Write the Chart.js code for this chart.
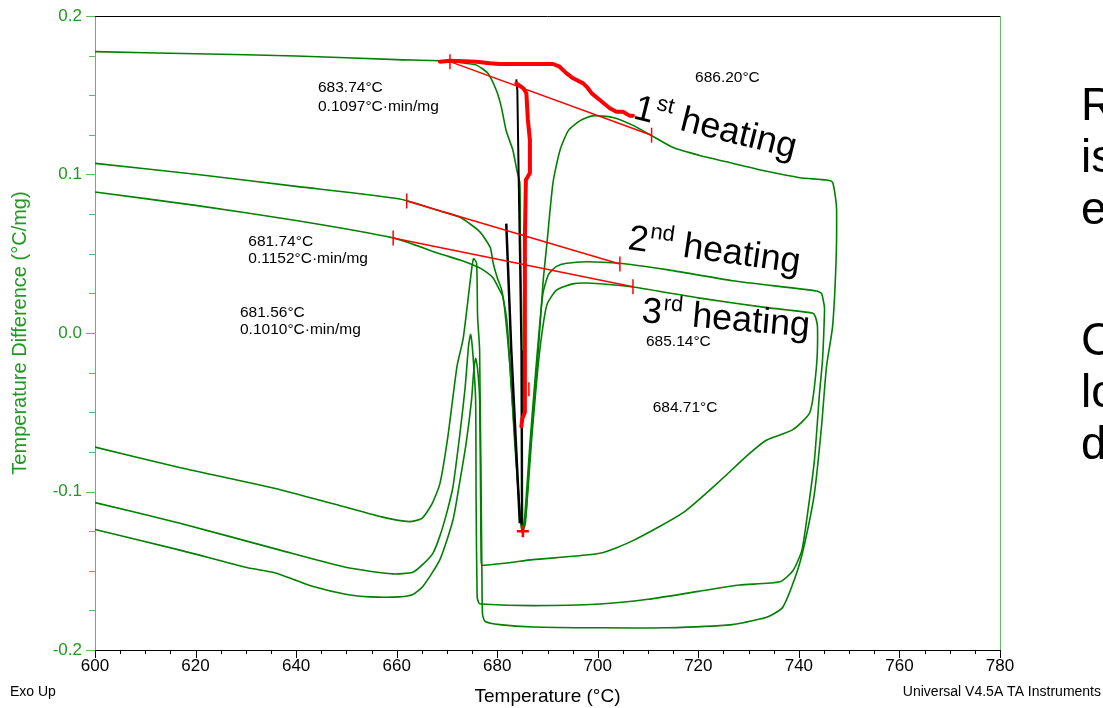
<!DOCTYPE html>
<html>
<head>
<meta charset="utf-8">
<title>DSC heating runs</title>
<script src="https://cdn.jsdelivr.net/npm/chart.js@4.4.1/dist/chart.umd.min.js"></script>
<style>
  html, body { margin: 0; padding: 0; background: #fff; overflow: hidden; }
  #wrap { position: relative; width: 1103px; height: 708px; overflow: hidden; }
  #dsc { position: absolute; left: 0; top: 0; }
  .side { position: absolute; left: 1081px; font-family: 'Liberation Sans', Arial, sans-serif; font-size: 46px; line-height: 52px; color: #000; white-space: nowrap; }
</style>
</head>
<body>
<div id="wrap">
  <canvas id="dsc" width="1103" height="708"></canvas>
  <div class="side" style="top:78px">R<br>is<br>e</div>
  <div class="side" style="top:313px">C<br>lo<br>d</div>
</div>
<script>
// axis ticks
const tempTicks = [600, 620, 640, 660, 680, 700, 720, 740, 760, 780];
const diffTicks = [-0.2, -0.1, 0.0, 0.1, 0.2];

// green DSC runs: heating up to ~746 C, then cooling back (temperature, signal)
const run1 = [[600,0.1775],[620,0.1762],[640,0.1748],[660,0.1725],[670,0.1716],[674,0.1700],[675.9,0.1690],[678.1,0.1640],[679.8,0.1533],[680.8,0.1428],[681.8,0.1274],[683.1,0.1155],[683.9,0.1028],[684.5,0.0946],[684.6,0.0630],[684.9,0.0000],[685.0,-0.0800],[685.1,-0.1250],[685.6,-0.1200],[686.3,-0.0850],[687.3,-0.0450],[688.2,-0.0100],[689.1,0.0315],[689.9,0.0570],[691.1,0.0950],[692.5,0.1155],[694.2,0.1280],[696.5,0.1340],[699.0,0.1370],[703.0,0.1360],[707.0,0.1310],[711.0,0.1240],[715.0,0.1170],[720.3,0.1120],[726.9,0.1070],[733.6,0.1020],[740.2,0.0980],[745.5,0.0965],[746.7,0.0950],[747.3,0.0850],[747.5,0.0776],[747.4,0.0460],[746.7,0.0040],[745.5,-0.0210],[744.5,-0.0590],[743.1,-0.1010],[741.2,-0.1320],[739.6,-0.1510],[736.8,-0.1730],[734.2,-0.1785],[732.2,-0.1805],[726.8,-0.1840],[713.7,-0.1860],[700.4,-0.1860],[687.1,-0.1855],[680.5,-0.1840],[677.6,-0.1820],[677.1,-0.1780],[677.0,-0.1680],[676.5,-0.0110],[676.1,0.0100],[675.9,0.0440],[675.3,0.0470],[674.9,0.0400],[674.0,0.0160],[673.2,-0.0040],[672.0,-0.0210],[670.2,-0.0650],[668.6,-0.0950],[667.0,-0.1080],[665.0,-0.1170],[662.5,-0.1190],[657.0,-0.1160],[650.0,-0.1100],[637.0,-0.0990],[617.0,-0.0850],[600,-0.0720]];
const run2 = [[600,0.1070],[620,0.1002],[640,0.0925],[660.6,0.0845],[668.6,0.0770],[672.6,0.0730],[676.5,0.0640],[678.6,0.0540],[679.2,0.0440],[680.0,0.0350],[680.9,0.0270],[681.5,0.0145],[682.5,-0.0200],[683.8,-0.0800],[684.7,-0.1200],[685.0,-0.1260],[685.5,-0.1150],[686.5,-0.0700],[687.5,-0.0300],[688.3,0.0000],[689.1,0.0250],[690.2,0.0370],[691.8,0.0420],[693.8,0.0440],[697.8,0.0450],[704.4,0.0440],[713.7,0.0400],[726.8,0.0330],[743.5,0.0265],[744.5,0.0250],[745.0,0.0180],[745.1,0.0145],[744.7,-0.0170],[744.1,-0.0380],[743.1,-0.0800],[741.8,-0.1120],[740.6,-0.1370],[738.8,-0.1500],[736.2,-0.1570],[728.2,-0.1590],[720.0,-0.1630],[710.0,-0.1680],[700.4,-0.1710],[687.1,-0.1720],[676.7,-0.1710],[676.3,-0.1700],[676.0,-0.1660],[675.8,-0.1050],[675.7,-0.0420],[675.1,-0.0110],[674.7,-0.0010],[674.3,-0.0080],[673.6,-0.0350],[672.6,-0.0630],[671.2,-0.0970],[670.0,-0.1130],[668.6,-0.1280],[667.2,-0.1390],[665.2,-0.1460],[663.2,-0.1510],[659.2,-0.1520],[650.1,-0.1480],[636.8,-0.1370],[616.9,-0.1200],[600,-0.1070]];
const run3 = [[600,0.0890],[620,0.0805],[640,0.0710],[659.3,0.0600],[668.6,0.0500],[672.6,0.0460],[675.1,0.0430],[677.1,0.0400],[679.1,0.0350],[680.5,0.0270],[681.1,0.0230],[682.0,0.0050],[683.5,-0.0700],[684.6,-0.1180],[685.0,-0.1240],[685.7,-0.1150],[686.9,-0.0650],[688.0,-0.0250],[688.9,0.0000],[689.9,0.0180],[691.8,0.0270],[695.0,0.0310],[698.0,0.0315],[707.0,0.0290],[720.3,0.0220],[733.6,0.0160],[742.7,0.0126],[743.3,0.0100],[743.7,0.0040],[743.5,-0.0210],[742.2,-0.0500],[738.8,-0.0610],[733.6,-0.0675],[730.2,-0.0760],[723.7,-0.0950],[716.9,-0.1135],[707.0,-0.1310],[700.4,-0.1390],[687.1,-0.1430],[677.0,-0.1465],[676.8,-0.1430],[676.7,-0.1050],[676.5,-0.0420],[676.1,-0.0230],[675.7,-0.0160],[675.3,-0.0250],[674.9,-0.0420],[673.8,-0.0700],[672.6,-0.0930],[671.2,-0.1180],[668.6,-0.1430],[665.2,-0.1600],[663.2,-0.1650],[660.6,-0.1665],[654.7,-0.1665],[650.1,-0.1650],[643.4,-0.1600],[638.2,-0.1540],[635.4,-0.1510],[630.2,-0.1480],[616.9,-0.1370],[600,-0.1240]];

// black peak fits
const blackFit1 = [[683.8,0.1600],[684.0,0.1530],[684.8,-0.0110],[684.9,-0.1210]];
const blackFit2 = [[681.8,0.0690],[682.8,-0.0110],[684.5,-0.1200]];

// red onset baselines (tangents)
const tangent1 = [[670.6,0.1712],[710.7,0.1248]];
const tangent2 = [[662.0,0.0833],[704.4,0.0435]];
const tangent3 = [[659.3,0.0600],[707.0,0.0292]];

// hand-drawn red traces
const redTrace = [[668.6,0.1712],[670.6,0.1718],[675.9,0.1712],[678.5,0.1702],[680.5,0.1697],[691.1,0.1697],[692.4,0.1680],[693.8,0.1638],[695.1,0.1607],[697.1,0.1575],[698.0,0.1546],[698.8,0.1512],[700.4,0.1470],[702.4,0.1418],[703.7,0.1396],[705.0,0.1396],[706.4,0.1370],[707.0,0.1370]];
const redDrop = [[683.8,0.1575],[685.2,0.1544],[685.8,0.1512],[686.1,0.1344],[686.5,0.1218],[686.5,0.1010],[685.7,0.0965],[685.5,0.0587],[685.5,-0.0044],[685.5,-0.0500],[685.0,-0.0540],[684.8,-0.0590]];
const peakMark = [[685.1,-0.1250]];
const endMark = [[686.3,-0.0355]];

// analysis readouts
const notes = [
  { text: '683.74°C', x: 644.35, y: 0.1546 },
  { text: '0.1097°C·min/mg', x: 644.35, y: 0.1426 },
  { text: '686.20°C', x: 719.34, y: 0.1609 },
  { text: '681.74°C', x: 630.49, y: 0.0574 },
  { text: '0.1152°C·min/mg', x: 630.49, y: 0.0467 },
  { text: '681.56°C', x: 628.84, y: 0.0126 },
  { text: '0.1010°C·min/mg', x: 628.84, y: 0.0019 },
  { text: '685.14°C', x: 709.59, y: -0.0057 },
  { text: '684.71°C', x: 710.92, y: -0.0473 }
];
const runLabels = [
  { num: '1', sup: 'st', x: 706.81, y: 0.1356, angle: 14 },
  { num: '2', sup: 'nd', x: 705.81, y: 0.0530, angle: 8 },
  { num: '3', sup: 'rd', x: 708.60, y: 0.0069, angle: 5 }
];

const family = "'Liberation Sans', Arial, sans-serif";
const curveGreen = '#008000';
const axisGreen = '#63b963';
const textGreen = '#1f9a1f';
const red = '#ff0000';

function series(points, color, width, order, extra) {
    return Object.assign({
        data: points.map(p => ({ x: p[0], y: p[1] })),
        showLine: true,
        borderColor: color,
        backgroundColor: color,
        borderWidth: width,
        pointRadius: 0,
        tension: 0,
        fill: false,
        order: order
    }, extra || {});
}

const tickEnds = { pointStyle: 'line', rotation: 90, pointRadius: 7.5, pointBorderColor: red, pointBorderWidth: 1.5 };

const datasets = [
    series(redTrace, red, 4, 0, { borderJoinStyle: 'round', borderCapStyle: 'round' }),
    series(redDrop, red, 4, 0, { borderJoinStyle: 'round', borderCapStyle: 'round' }),
    series(peakMark, red, 2.5, 0, { showLine: false, pointStyle: 'cross', pointRadius: 6, pointBorderColor: red, pointBorderWidth: 2.5 }),
    series(endMark, red, 1.5, 0, { showLine: false, pointStyle: 'line', rotation: 90, pointRadius: 7, pointBorderColor: red, pointBorderWidth: 1.5 }),
    series(tangent1, red, 1.5, 1, tickEnds),
    series(tangent2, red, 1.5, 1, tickEnds),
    series(tangent3, red, 1.5, 1, tickEnds),
    series(blackFit1, '#000', 2, 2),
    series(blackFit2, '#000', 2.5, 2),
    series(run1, curveGreen, 1.6, 3, { tension: 0.2 }),
    series(run2, curveGreen, 1.6, 3, { tension: 0.2 }),
    series(run3, curveGreen, 1.6, 3, { tension: 0.2 })
];

// frame, minor ticks and text annotations
const dscDecor = {
    id: 'dscDecor',
    afterDraw(chart) {
        const ctx = chart.ctx;
        const area = chart.chartArea;
        const xs = chart.scales.x;
        const ys = chart.scales.y;
        ctx.save();

        ctx.lineWidth = 1;
        ctx.strokeStyle = '#000';
        ctx.beginPath();
        ctx.moveTo(area.left, area.top + 0.5);
        ctx.lineTo(area.right, area.top + 0.5);
        ctx.stroke();
        ctx.strokeStyle = axisGreen;
        ctx.beginPath();
        ctx.moveTo(area.right + 0.5, area.top);
        ctx.lineTo(area.right + 0.5, area.bottom);
        ctx.stroke();

        // x ticks every 5 degrees
        ctx.strokeStyle = '#000';
        for (let i = 0; i <= 36; i++) {
            const px = Math.round(xs.getPixelForValue(600 + i * 5)) + 0.5;
            const len = i % 4 === 0 ? 8 : 4;
            ctx.beginPath();
            ctx.moveTo(px, area.bottom);
            ctx.lineTo(px, area.bottom + len);
            ctx.stroke();
        }
        // y ticks every 0.025
        ctx.strokeStyle = axisGreen;
        for (let i = 0; i <= 16; i++) {
            const py = Math.round(ys.getPixelForValue(-0.2 + i * 0.025)) + 0.5;
            const len = i % 4 === 0 ? 9 : 6;
            ctx.beginPath();
            ctx.moveTo(area.left - len, py);
            ctx.lineTo(area.left, py);
            ctx.stroke();
        }

        ctx.fillStyle = '#000';
        ctx.textBaseline = 'middle';
        ctx.textAlign = 'left';
        ctx.font = '15.5px ' + family;
        notes.forEach(n => {
            ctx.fillText(n.text, xs.getPixelForValue(n.x), ys.getPixelForValue(n.y));
        });

        ctx.textBaseline = 'alphabetic';
        runLabels.forEach(l => {
            ctx.save();
            ctx.translate(xs.getPixelForValue(l.x), ys.getPixelForValue(l.y));
            ctx.rotate(l.angle * Math.PI / 180);
            ctx.font = '36px ' + family;
            ctx.fillText(l.num, 0, 0);
            const w1 = ctx.measureText(l.num).width;
            ctx.font = '22px ' + family;
            ctx.fillText(l.sup, w1 + 1, -14);
            const w2 = ctx.measureText(l.sup).width;
            ctx.font = '36px ' + family;
            ctx.fillText(' heating', w1 + w2 + 1, 0);
            ctx.restore();
        });

        ctx.font = '14px ' + family;
        ctx.textBaseline = 'middle';
        ctx.fillText('Exo Up', 10, 692);
        ctx.textAlign = 'right';
        ctx.fillText('Universal V4.5A TA Instruments', 1101, 692);
        ctx.restore();
    }
};

new Chart(document.getElementById('dsc').getContext('2d'), {
    type: 'scatter',
    data: { datasets: datasets },
    options: {
        responsive: false,
        animation: false,
        events: [],
        layout: { padding: { top: 16, right: 103, bottom: 0, left: 0 } },
        plugins: {
            legend: { display: false },
            tooltip: { enabled: false }
        },
        scales: {
            x: {
                type: 'linear',
                min: 600,
                max: 780,
                afterBuildTicks: scale => { scale.ticks = tempTicks.map(v => ({ value: v })); },
                afterFit: scale => { scale.height = 58; },
                ticks: {
                    color: '#000',
                    padding: 6,
                    maxRotation: 0,
                    autoSkip: false,
                    font: { size: 17, family: family }
                },
                grid: { display: false, drawTicks: false },
                border: { display: true, color: '#000', width: 1 },
                title: {
                    display: true,
                    text: 'Temperature (°C)',
                    color: '#000',
                    font: { size: 19, family: family },
                    padding: { top: 0, bottom: 0 }
                }
            },
            y: {
                type: 'linear',
                min: -0.2,
                max: 0.2,
                afterBuildTicks: scale => { scale.ticks = diffTicks.map(v => ({ value: v })); },
                afterFit: scale => { scale.width = 95; },
                ticks: {
                    color: textGreen,
                    padding: 5,
                    font: { size: 17, family: family },
                    callback: v => Number(v).toFixed(1)
                },
                grid: { display: false, drawTicks: true, tickLength: 8 },
                border: { display: true, color: axisGreen, width: 1 },
                title: {
                    display: true,
                    text: 'Temperature Difference (°C/mg)',
                    color: textGreen,
                    font: { size: 20, family: family },
                    padding: { top: 8, bottom: 0 }
                }
            }
        }
    },
    plugins: [dscDecor]
});
</script>
</body>
</html>
